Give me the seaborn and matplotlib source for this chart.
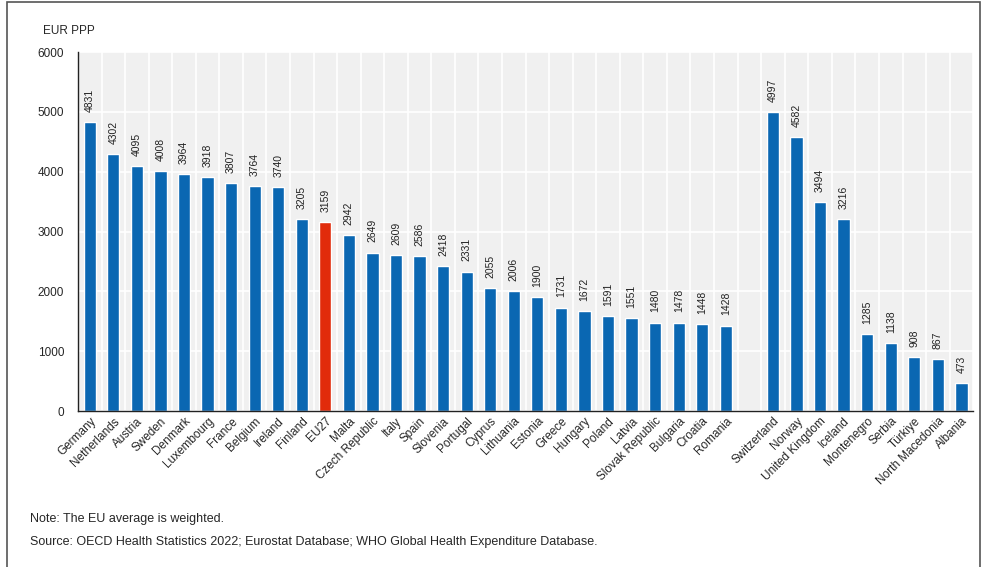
import numpy as np
import pandas as pd
import matplotlib.pyplot as plt
import seaborn as sns
from matplotlib.patches import Rectangle

# data
eu_countries = ["Germany", "Netherlands", "Austria", "Sweden", "Denmark", "Luxembourg",
                "France", "Belgium", "Ireland", "Finland", "EU27", "Malta", "Czech Republic",
                "Italy", "Spain", "Slovenia", "Portugal", "Cyprus", "Lithuania", "Estonia",
                "Greece", "Hungary", "Poland", "Latvia", "Slovak Republic", "Bulgaria",
                "Croatia", "Romania"]
eu_values = [4831, 4302, 4095, 4008, 3964, 3918, 3807, 3764, 3740, 3205, 3159, 2942, 2649,
             2609, 2586, 2418, 2331, 2055, 2006, 1900, 1731, 1672, 1591, 1551, 1480, 1478,
             1448, 1428]
other_countries = ["Switzerland", "Norway", "United Kingdom", "Iceland", "Montenegro",
                   "Serbia", "Türkiye", "North Macedonia", "Albania"]
other_values = [4997, 4582, 3494, 3216, 1285, 1138, 908, 867, 473]
yticks = [0, 1000, 2000, 3000, 4000, 5000, 6000]

GAP = " "
order = eu_countries + [GAP] + other_countries
df = pd.DataFrame({"country": eu_countries + other_countries,
                   "value": eu_values + other_values})
df["group"] = np.where(df["country"] == "EU27", "eu", "country")

BLUE = "#0a67b2"
RED = "#e12b0b"

sns.set_theme(style="white")
plt.rcParams["font.family"] = ["Liberation Sans", "DejaVu Sans"]

fig = plt.figure(figsize=(9.87, 5.67), dpi=100)
ax = fig.add_axes([0.079, 0.275, 0.907, 0.633])
ax.set_facecolor("#f0f0f0")

sns.barplot(data=df, x="country", y="value", hue="group", order=order,
            palette={"country": BLUE, "eu": RED}, width=0.52, dodge=False,
            legend=False, ax=ax, saturation=1)

# value labels
for c in ax.containers:
    for bar in c:
        h = bar.get_height()
        if np.isnan(h):
            continue
        ax.text(bar.get_x() + bar.get_width() / 2, h + 170, f"{int(round(h))}",
                rotation=90, ha="center", va="bottom", fontsize=7.5, color="#222222")

n = len(order)
ax.set_xlim(-0.5, n - 0.5)
ax.set_ylim(0, 6000)
ax.set_yticks(yticks)
ax.set_yticklabels([str(t) for t in yticks], fontsize=8.5)
ax.set_xticks(range(n))
ax.set_xticklabels(order, rotation=45, ha="right", rotation_mode="anchor", fontsize=8.5)
ax.tick_params(axis="x", which="major", length=0, pad=3)
ax.tick_params(axis="y", which="major", length=4, direction="out", color="#333333", pad=6)
ax.set_xticks(np.arange(-0.5, n, 1.0), minor=True)
ax.tick_params(axis="x", which="minor", length=3, direction="in", color="#333333")

ax.set_axisbelow(True)
ax.grid(axis="y", which="major", color="white", linewidth=1.2)
ax.grid(axis="x", which="minor", color="white", linewidth=1.2)
for s in ["top", "right"]:
    ax.spines[s].set_visible(False)
for s in ["left", "bottom"]:
    ax.spines[s].set_color("#222222")
    ax.spines[s].set_linewidth(1.0)
ax.set_xlabel("")
ax.set_ylabel("")

fig.text(0.044, 0.945, "EUR PPP", fontsize=8.5, ha="left", va="center")
fig.text(0.030, 0.084, "Note: The EU average is weighted.", fontsize=9, ha="left", va="center")
fig.text(0.030, 0.044, "Source: OECD Health Statistics 2022; Eurostat Database; WHO Global Health Expenditure Database.",
         fontsize=9, ha="left", va="center")

fig.patches.append(Rectangle((7 / 987, -0.02), (980 - 7) / 987, 1.02 - 2 / 567,
                             transform=fig.transFigure, fill=False,
                             edgecolor="#555555", linewidth=1.2))

fig.savefig("out.png", dpi=100)
